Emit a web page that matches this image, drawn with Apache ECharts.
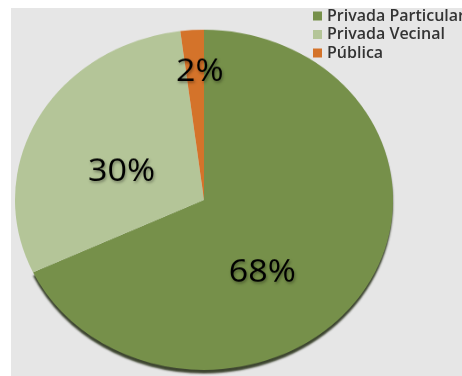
<!DOCTYPE html>
<html>
<head>
<meta charset="utf-8">
<script src="https://cdn.jsdelivr.net/npm/echarts@6/dist/echarts.min.js"></script>
<style>
  html, body { margin: 0; padding: 0; background: #ffffff; width: 462px; height: 376px; overflow: hidden; }
  #bg { position: absolute; left: 11px; top: 8px; width: 451px; height: 368px; background: #e6e6e6; }
  #pie { position: absolute; left: 0; top: 0; width: 462px; height: 418px; transform: scaleY(0.9); transform-origin: 0 0; }
  #leg { position: absolute; left: 0; top: 0; width: 462px; height: 376px; }
</style>
</head>
<body>
<div id="bg"></div>
<div id="pie"></div>
<div id="leg"></div>
<script>
// Data
const categories = ['Privada Particular', 'Privada Vecinal', 'Pública'];
const values = [68, 30, 2];
const colors = ['#76904a', '#b4c598', '#d4732a'];

// label nudges (presentation only)
const labelOffsets = [[-24, 29], [3, 16], [2, -44]];

const pieData = categories.map((name, i) => ({
  name: name,
  value: values[i],
  itemStyle: i === 0
    ? { color: colors[i], shadowColor: 'rgba(30,40,15,0.85)', shadowBlur: 2, shadowOffsetY: 4 }
    : { color: colors[i] },
  label: { offset: labelOffsets[i] }
}));

const pieChart = echarts.init(document.getElementById('pie'), null, { renderer: 'canvas' });
pieChart.setOption({
  animation: false,
  series: [{
    type: 'pie',
    center: [204, 222],
    radius: 189,
    startAngle: 90,
    clockwise: true,
    silent: true,
    avoidLabelOverlap: false,
    itemStyle: { borderWidth: 0 },
    label: {
      show: true,
      position: 'inside',
      formatter: '{c}%',
      fontFamily: 'Open Sans',
      fontSize: 34,
      color: '#000000',
      textShadowColor: 'rgba(0,0,0,0.35)',
      textShadowBlur: 3,
      textShadowOffsetX: 1,
      textShadowOffsetY: 2
    },
    labelLine: { show: false },
    data: pieData
  }]
});

const legChart = echarts.init(document.getElementById('leg'), null, { renderer: 'canvas' });
legChart.setOption({
  animation: false,
  color: colors,
  legend: {
    orient: 'vertical',
    left: 313,
    top: 7,
    itemWidth: 9,
    itemHeight: 9,
    itemGap: 0.5,
    icon: 'rect',
    padding: 0,
    textStyle: {
      fontFamily: 'Open Sans',
      fontSize: 16,
      fontWeight: 600,
      color: '#333333',
      lineHeight: 18
    },
    data: categories
  },
  series: [{
    type: 'pie',
    radius: [0, 0],
    silent: true,
    label: { show: false },
    data: categories.map((name, i) => ({ name: name, value: values[i] }))
  }]
});
</script>
</body>
</html>
